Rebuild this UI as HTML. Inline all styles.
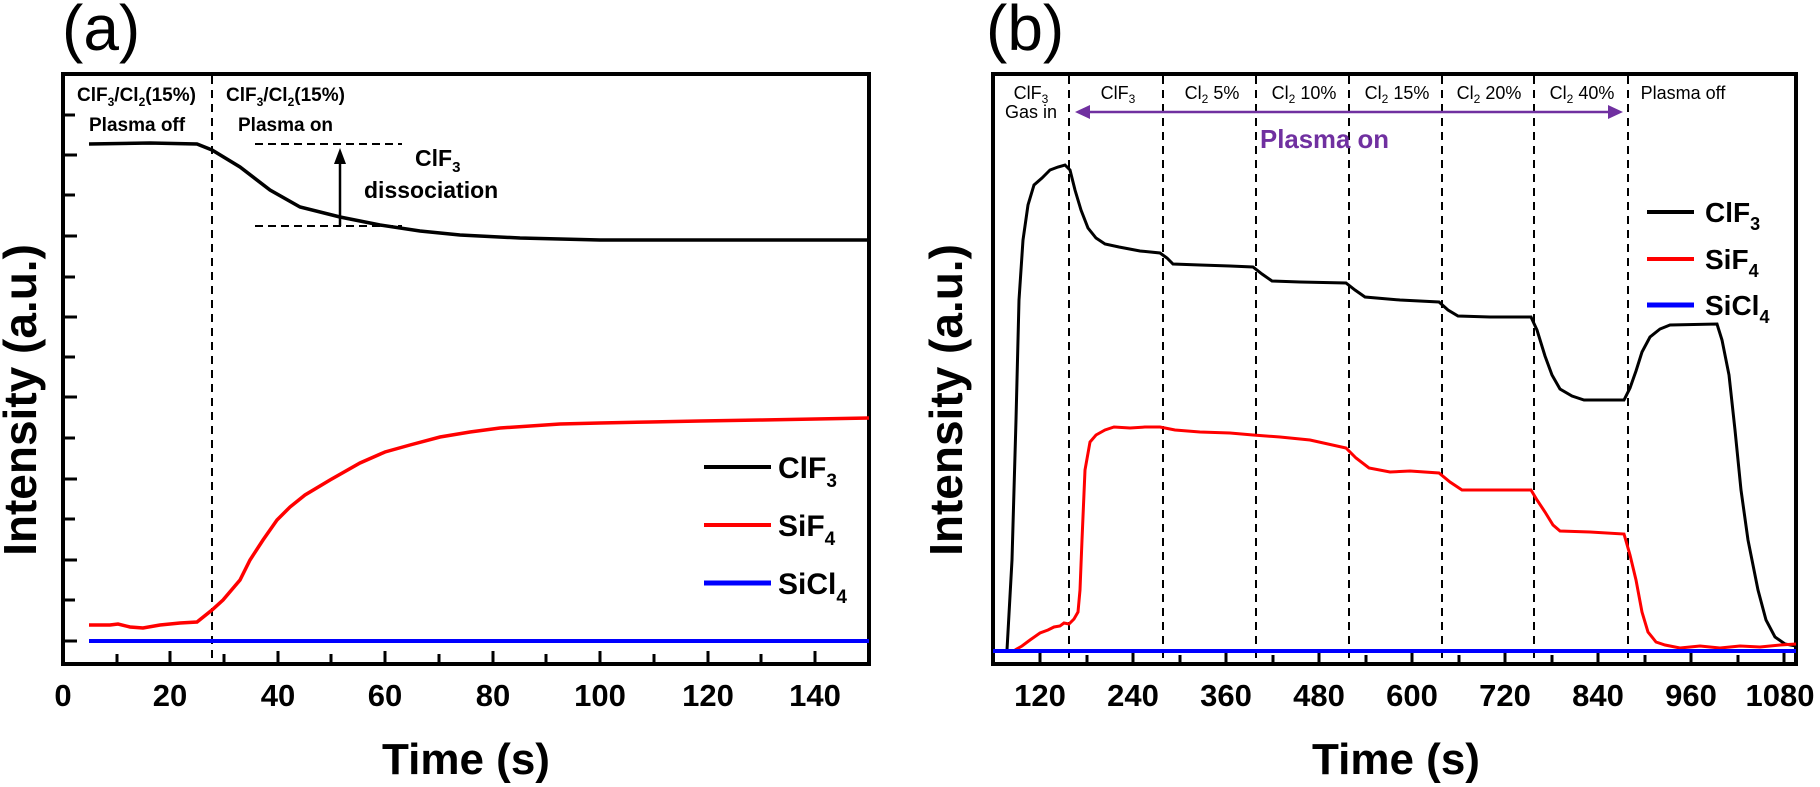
<!DOCTYPE html>
<html><head><meta charset="utf-8"><style>
html,body{margin:0;padding:0;background:#fff;}
svg{display:block;font-family:"Liberation Sans",Arial,sans-serif;}
</style></head><body>
<svg width="1820" height="787" viewBox="0 0 1820 787" xmlns="http://www.w3.org/2000/svg">
<!-- ===== Panel (a) ===== -->
<text x="62" y="50" font-size="64">(a)</text>
<rect x="63" y="74" width="806" height="590" fill="none" stroke="#000" stroke-width="4"/>
<g stroke="#000" stroke-width="3">
<line x1="63" y1="115" x2="75" y2="115"/><line x1="63" y1="155" x2="77" y2="155"/>
<line x1="63" y1="195" x2="75" y2="195"/><line x1="63" y1="236" x2="77" y2="236"/>
<line x1="63" y1="277" x2="75" y2="277"/><line x1="63" y1="317" x2="77" y2="317"/>
<line x1="63" y1="357" x2="75" y2="357"/><line x1="63" y1="397" x2="77" y2="397"/>
<line x1="63" y1="438" x2="75" y2="438"/><line x1="63" y1="479" x2="77" y2="479"/>
<line x1="63" y1="519" x2="75" y2="519"/><line x1="63" y1="560" x2="77" y2="560"/>
<line x1="63" y1="600" x2="75" y2="600"/><line x1="63" y1="641" x2="77" y2="641"/>
</g>
<g stroke="#000" stroke-width="3">
<line x1="117" y1="664" x2="117" y2="654"/><line x1="170" y1="664" x2="170" y2="651"/>
<line x1="224" y1="664" x2="224" y2="654"/><line x1="278" y1="664" x2="278" y2="651"/>
<line x1="331" y1="664" x2="331" y2="654"/><line x1="385" y1="664" x2="385" y2="651"/>
<line x1="439" y1="664" x2="439" y2="654"/><line x1="493" y1="664" x2="493" y2="651"/>
<line x1="546" y1="664" x2="546" y2="654"/><line x1="600" y1="664" x2="600" y2="651"/>
<line x1="654" y1="664" x2="654" y2="654"/><line x1="708" y1="664" x2="708" y2="651"/>
<line x1="761" y1="664" x2="761" y2="654"/><line x1="815" y1="664" x2="815" y2="651"/>
</g>
<g font-size="31" font-weight="bold" text-anchor="middle">
<text x="63" y="706">0</text><text x="170" y="706">20</text><text x="278" y="706">40</text>
<text x="385" y="706">60</text><text x="493" y="706">80</text><text x="600" y="706">100</text>
<text x="708" y="706">120</text><text x="815" y="706">140</text>
</g>
<text x="466" y="774" font-size="44" font-weight="bold" text-anchor="middle">Time (s)</text>
<text transform="translate(36,400) rotate(-90)" font-size="46" font-weight="bold" text-anchor="middle">Intensity (a.u.)</text>
<line x1="212" y1="76" x2="212" y2="662" stroke="#000" stroke-width="2" stroke-dasharray="8,6"/>
<g font-size="19" font-weight="bold">
<text x="77" y="101">ClF<tspan font-size="12" dy="5">3</tspan><tspan dy="-5">/Cl</tspan><tspan font-size="12" dy="5">2</tspan><tspan dy="-5">(15%)</tspan></text>
<text x="89" y="131">Plasma off</text>
<text x="226" y="101">ClF<tspan font-size="12" dy="5">3</tspan><tspan dy="-5">/Cl</tspan><tspan font-size="12" dy="5">2</tspan><tspan dy="-5">(15%)</tspan></text>
<text x="238" y="131">Plasma on</text>
</g>
<g stroke="#000" stroke-width="2" stroke-dasharray="8,5">
<line x1="255" y1="144" x2="402" y2="144"/><line x1="255" y1="226" x2="402" y2="226"/>
</g>
<line x1="340" y1="226" x2="340" y2="160" stroke="#000" stroke-width="2.5"/>
<polygon points="340,148 334,164 346,164" fill="#000"/>
<text x="415" y="166" font-size="23" font-weight="bold">ClF<tspan font-size="15" dy="6">3</tspan></text>
<text x="364" y="198" font-size="23" font-weight="bold">dissociation</text>
<polyline fill="none" stroke="#000" stroke-width="3.5" points="89,144 150,143 197,144 212,150 240,167 270,190 300,207 340,217 380,225 420,231 460,235 520,238 600,240 700,240 869,240"/>
<polyline fill="none" stroke="#ff0000" stroke-width="3.5" points="89,625 110,625 118,624 130,627 143,628 160,625 180,623 197,622 212,610 223,600 240,580 250,560 263,540 277,520 290,507 305,495 330,480 360,463 385,452 410,445 440,437 470,432 500,428 560,424 600,423 650,422 700,421 760,420 869,418"/>
<line x1="89" y1="641" x2="869" y2="641" stroke="#0000ff" stroke-width="4"/>
<line x1="704" y1="467" x2="771" y2="467" stroke="#000" stroke-width="4"/>
<line x1="704" y1="525" x2="771" y2="525" stroke="#ff0000" stroke-width="4"/>
<line x1="704" y1="583" x2="771" y2="583" stroke="#0000ff" stroke-width="5"/>
<g font-size="30" font-weight="bold">
<text x="778" y="478">ClF<tspan font-size="19" dy="9">3</tspan></text>
<text x="778" y="536">SiF<tspan font-size="19" dy="9">4</tspan></text>
<text x="778" y="594">SiCl<tspan font-size="19" dy="9">4</tspan></text>
</g>

<!-- ===== Panel (b) ===== -->
<text x="986" y="50" font-size="64">(b)</text>
<rect x="993" y="74" width="803" height="590" fill="none" stroke="#000" stroke-width="4"/>
<g stroke="#000" stroke-width="3">
<line x1="1040" y1="664" x2="1040" y2="651"/><line x1="1087" y1="664" x2="1087" y2="655"/>
<line x1="1133" y1="664" x2="1133" y2="651"/><line x1="1180" y1="664" x2="1180" y2="655"/>
<line x1="1226" y1="664" x2="1226" y2="651"/><line x1="1273" y1="664" x2="1273" y2="655"/>
<line x1="1319" y1="664" x2="1319" y2="651"/><line x1="1366" y1="664" x2="1366" y2="655"/>
<line x1="1412" y1="664" x2="1412" y2="651"/><line x1="1459" y1="664" x2="1459" y2="655"/>
<line x1="1505" y1="664" x2="1505" y2="651"/><line x1="1552" y1="664" x2="1552" y2="655"/>
<line x1="1598" y1="664" x2="1598" y2="651"/><line x1="1645" y1="664" x2="1645" y2="655"/>
<line x1="1691" y1="664" x2="1691" y2="651"/><line x1="1738" y1="664" x2="1738" y2="655"/>
<line x1="1784" y1="664" x2="1784" y2="651"/>
</g>
<g font-size="31" font-weight="bold" text-anchor="middle">
<text x="1040" y="706">120</text><text x="1133" y="706">240</text><text x="1226" y="706">360</text>
<text x="1319" y="706">480</text><text x="1412" y="706">600</text><text x="1505" y="706">720</text>
<text x="1598" y="706">840</text><text x="1691" y="706">960</text><text x="1780" y="706">1080</text>
</g>
<text x="1396" y="774" font-size="44" font-weight="bold" text-anchor="middle">Time (s)</text>
<text transform="translate(962,400) rotate(-90)" font-size="46" font-weight="bold" text-anchor="middle">Intensity (a.u.)</text>
<g stroke="#000" stroke-width="2" stroke-dasharray="8,6">
<line x1="1069" y1="76" x2="1069" y2="662"/><line x1="1163" y1="76" x2="1163" y2="662"/>
<line x1="1256" y1="76" x2="1256" y2="662"/><line x1="1349" y1="76" x2="1349" y2="662"/>
<line x1="1442" y1="76" x2="1442" y2="662"/><line x1="1534" y1="76" x2="1534" y2="662"/>
<line x1="1628" y1="76" x2="1628" y2="662"/>
</g>
<g font-size="18" text-anchor="middle">
<text x="1031" y="99">ClF<tspan font-size="12" dy="4">3</tspan></text>
<text x="1031" y="118">Gas in</text>
<text x="1118" y="99">ClF<tspan font-size="12" dy="4">3</tspan></text>
<text x="1212" y="99">Cl<tspan font-size="12" dy="4">2</tspan><tspan dy="-4"> 5%</tspan></text>
<text x="1304" y="99">Cl<tspan font-size="12" dy="4">2</tspan><tspan dy="-4"> 10%</tspan></text>
<text x="1397" y="99">Cl<tspan font-size="12" dy="4">2</tspan><tspan dy="-4"> 15%</tspan></text>
<text x="1489" y="99">Cl<tspan font-size="12" dy="4">2</tspan><tspan dy="-4"> 20%</tspan></text>
<text x="1582" y="99">Cl<tspan font-size="12" dy="4">2</tspan><tspan dy="-4"> 40%</tspan></text>
<text x="1683" y="99">Plasma off</text>
</g>
<line x1="1086" y1="112" x2="1612" y2="112" stroke="#7030a0" stroke-width="2.5"/>
<polygon points="1075,112 1090,105 1090,119" fill="#7030a0"/>
<polygon points="1623,112 1608,105 1608,119" fill="#7030a0"/>
<text x="1260" y="148" font-size="26" font-weight="bold" fill="#7030a0" textLength="129" lengthAdjust="spacingAndGlyphs">Plasma on</text>
<polyline fill="none" stroke="#000" stroke-width="3" points="1007,650 1012,560 1016,420 1019,300 1023,240 1028,205 1034,185 1042,178 1050,170 1058,167 1065,165 1070,170 1075,190 1081,210 1088,228 1096,238 1105,244 1119,247 1140,251 1160,253 1167,258 1173,264 1200,265 1230,266 1253,267 1262,274 1272,281 1300,282 1346,283 1355,290 1365,297 1400,300 1439,302 1448,310 1458,316 1490,317 1531,317 1537,330 1545,356 1552,375 1560,389 1572,396 1584,400 1610,400 1624,400 1630,388 1636,371 1642,352 1650,337 1660,329 1670,325 1717,324 1722,340 1729,375 1735,430 1741,490 1748,540 1758,590 1766,620 1775,637 1785,644 1796,646"/>
<polyline fill="none" stroke="#ff0000" stroke-width="3" points="1015,650 1022,646 1030,640 1040,633 1048,630 1054,627 1060,626 1064,623 1069,624 1074,619 1078,612 1080,590 1082,540 1085,470 1090,442 1096,435 1105,430 1114,427 1130,428 1145,427 1160,427 1175,430 1200,432 1230,433 1253,435 1280,437 1310,440 1346,448 1356,458 1369,468 1390,472 1410,471 1439,473 1450,482 1462,490 1490,490 1531,490 1537,500 1545,512 1553,525 1560,531 1590,532 1624,534 1630,555 1636,580 1642,612 1648,632 1656,642 1665,645 1680,648 1700,646 1720,648 1740,646 1760,647 1780,645 1796,644"/>
<line x1="993" y1="651" x2="1796" y2="651" stroke="#0000ff" stroke-width="4"/>
<line x1="1647" y1="212" x2="1694" y2="212" stroke="#000" stroke-width="4"/>
<line x1="1647" y1="259" x2="1694" y2="259" stroke="#ff0000" stroke-width="4"/>
<line x1="1647" y1="305" x2="1694" y2="305" stroke="#0000ff" stroke-width="5"/>
<g font-size="28" font-weight="bold">
<text x="1705" y="222">ClF<tspan font-size="18" dy="8">3</tspan></text>
<text x="1705" y="269">SiF<tspan font-size="18" dy="8">4</tspan></text>
<text x="1705" y="315">SiCl<tspan font-size="18" dy="8">4</tspan></text>
</g>
</svg>
</body></html>
